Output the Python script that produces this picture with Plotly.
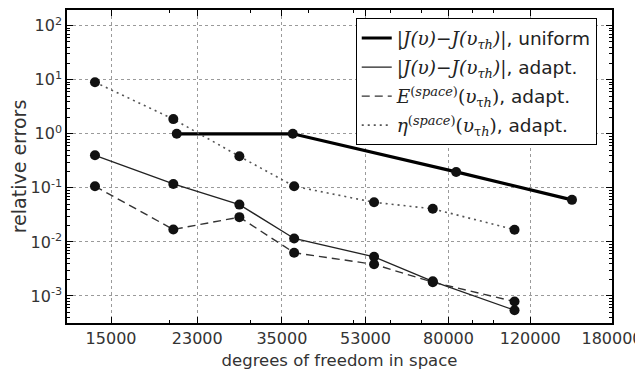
import plotly.graph_objects as go

# ---- data ----
x_uniform = [20780, 36950, 83100, 147600]
err_uniform = [1.0, 1.0, 0.197, 0.060]

x_adapt = [13850, 20430, 28350, 37200, 55300, 74000, 111000]
err_adapt = [0.40, 0.118, 0.049, 0.0116, 0.0053, 0.00187, 0.000545]
est_E = [0.107, 0.0170, 0.0287, 0.0063, 0.00385, 0.00180, 0.00079]
est_eta = [9.0, 1.87, 0.383, 0.107, 0.054, 0.041, 0.0168]

x_ticks = [15000, 23000, 35000, 53000, 80000, 120000, 180000]
x_ticklabels = [str(v) for v in x_ticks]
y_ticks = [1e-3, 1e-2, 1e-1, 1e0, 1e1, 1e2]
y_ticklabels = ["10<sup>-3</sup>", "10<sup>-2</sup>", "10<sup>-1</sup>",
                "10<sup>0</sup>", "10<sup>1</sup>", "10<sup>2</sup>"]
x_minor = [20000, 30000, 40000, 50000, 60000, 70000, 80000, 90000, 100000]
y_minor = [m * 10 ** e for e in range(-4, 3) for m in range(2, 10)]

serif = "font-family:'DejaVu Serif'"
J = f"<span style=\"{serif}\"><i>|J(υ)−J(υ<sub>τh</sub>)|</i></span>"
E = f"<span style=\"{serif}\"><i>E</i><sup>(<i>space</i>)</sup>(<i>υ</i><sub>τ<i>h</i></sub>)</span>"
ETA = f"<span style=\"{serif}\"><i>η</i><sup>(<i>space</i>)</sup>(<i>υ</i><sub>τ<i>h</i></sub>)</span>"

names = [J + ", uniform", J + ", adapt.", E + ", adapt.", ETA + ", adapt."]

series = [
    (x_uniform, err_uniform, dict(color="black", width=3.2, dash="solid")),
    (x_adapt, err_adapt, dict(color="#222", width=1.3, dash="solid")),
    (x_adapt, est_E, dict(color="#333", width=1.4, dash="8px,5px")),
    (x_adapt, est_eta, dict(color="#555", width=1.6, dash="2px,4px")),
]

fig = go.Figure()
for i, ((xs, ys, ln), nm) in enumerate(zip(series, names)):
    fig.add_trace(go.Scatter(x=xs, y=ys, mode="lines", line=ln, name=nm,
                             showlegend=True, legendgroup=f"g{i}"))
for i, ((xs, ys, ln), nm) in enumerate(zip(series, names)):
    fig.add_trace(go.Scatter(x=xs, y=ys, mode="markers", showlegend=False,
                             legendgroup=f"g{i}",
                             marker=dict(color="#111", size=10, line=dict(width=0))))

axis_common = dict(
    showline=True, linecolor="black", linewidth=1.5, mirror="ticks",
    ticks="inside", ticklen=6, tickwidth=1, tickcolor="black",
    showgrid=True, gridcolor="#9a9a9a", griddash="dot", gridwidth=1,
    zeroline=False, automargin=False,
    tickfont=dict(family="DejaVu Sans", size=16, color="#333"),
)

fig.update_xaxes(
    type="log", range=[4.0812, 5.2553],
    tickmode="array", tickvals=x_ticks, ticktext=x_ticklabels,
    minor=dict(tickvals=x_minor, ticks="inside", ticklen=3, tickcolor="black", showgrid=False),
    title=dict(text="degrees of freedom in space", font=dict(family="DejaVu Sans", size=16.5, color="#333")),
    **axis_common,
)
fig.update_yaxes(
    type="log", range=[-3.5, 2.29],
    tickmode="array", tickvals=y_ticks, ticktext=y_ticklabels,
    minor=dict(tickvals=y_minor, ticks="inside", ticklen=3, tickcolor="black", showgrid=False),
    title=dict(text="relative errors", font=dict(family="DejaVu Sans", size=19, color="#333")),
    **axis_common,
)

# page body has an 8px margin, so the figure is sized/offset to compensate
fig.update_layout(
    width=635, height=362,
    margin=dict(l=59, r=31, t=2, b=47),
    paper_bgcolor="white", plot_bgcolor="white",
    showlegend=True,
    legend=dict(x=0.972, y=0.973, xanchor="right", yanchor="top",
                bgcolor="white", bordercolor="black", borderwidth=1,
                font=dict(family="DejaVu Sans", size=18.5, color="#222"),
                itemwidth=30, tracegroupgap=2, traceorder="grouped"),
)

fig.write_html("out.html")
